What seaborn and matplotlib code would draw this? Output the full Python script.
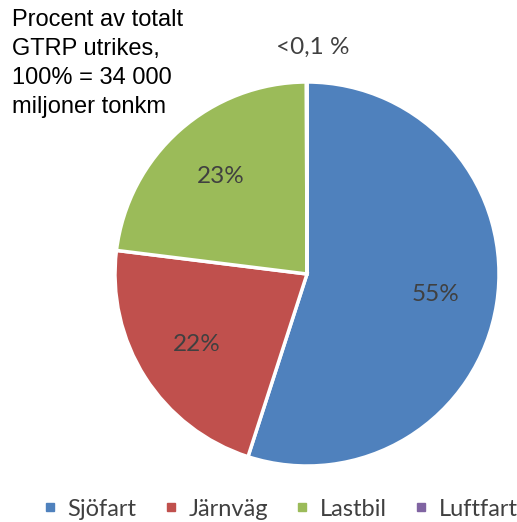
import matplotlib
matplotlib.use("Agg")
import matplotlib.pyplot as plt
import seaborn as sns
import numpy as np
from matplotlib.lines import Line2D

# transport share of GTRP abroad (percent of tonne-km)
modes = ["Sjöfart", "Järnväg", "Lastbil", "Luftfart"]
shares = [55.0, 22.0, 23.0, 0.05]
share_labels = ["55%", "22%", "23%", "<0,1 %"]
colors = ["#4F81BD", "#C0504D", "#9BBB59", "#8064A2"]

sns.set_theme(style="white")
plt.rcParams["font.family"] = ["Lato", "DejaVu Sans"]

fig = plt.figure(figsize=(5.17, 5.22), dpi=100)
ax = fig.add_axes([(307 - 192) / 517, (522 - 274 - 192) / 522, 384 / 517, 384 / 522])

pal = sns.color_palette(colors)
wedges, _ = ax.pie(shares, colors=pal, startangle=90, counterclock=False,
                   radius=1, wedgeprops=dict(edgecolor="white", linewidth=2.5))
ax.set_xlim(-1, 1)
ax.set_ylim(-1, 1)
ax.axis("off")

for w, lab, sh in zip(wedges, share_labels, shares):
    mid = np.deg2rad((w.theta1 + w.theta2) / 2)
    r = 0.68 if sh > 1 else 1.18
    dx = 0 if sh > 1 else 0.03
    ax.text(r * np.cos(mid) + dx, r * np.sin(mid), lab, ha="center", va="center",
            fontsize=17.5, color="#404040", clip_on=False)

fig.text(12 / 517, 1 - 9 / 522, "Procent av totalt\nGTRP utrikes,\n100% = 34 000\nmiljoner tonkm",
         ha="left", va="top", fontsize=17, family=["Liberation Sans"], linespacing=1.42,
         color="black")

handles = [Line2D([], [], marker="s", linestyle="", color=c, markersize=6) for c in colors]
fig.legend(handles, modes, loc="center", bbox_to_anchor=(281 / 517, 1 - 509 / 522),
           ncol=4, frameon=False, fontsize=17, handlelength=0.5, handletextpad=0.5,
           columnspacing=1.2, labelcolor="#404040", borderpad=0)

fig.savefig("out.png", dpi=100)
